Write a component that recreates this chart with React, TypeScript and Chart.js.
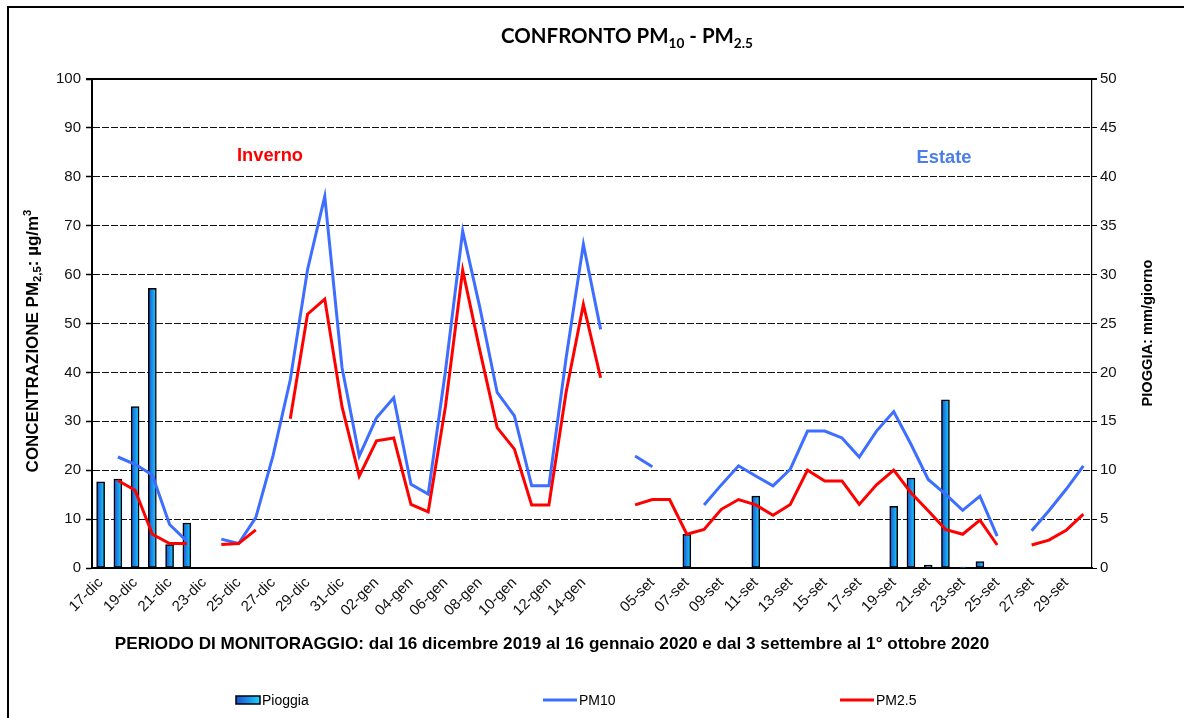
import React, { useEffect, useRef } from 'react';
import { Chart, registerables } from 'chart.js';

Chart.register(...registerables);

const categories = [
  '17-dic', '18-dic', '19-dic', '20-dic', '21-dic', '22-dic', '23-dic', '24-dic', '25-dic', '26-dic',
  '27-dic', '28-dic', '29-dic', '30-dic', '31-dic', '01-gen', '02-gen', '03-gen', '04-gen', '05-gen',
  '06-gen', '07-gen', '08-gen', '09-gen', '10-gen', '11-gen', '12-gen', '13-gen', '14-gen', '15-gen',
  '',
  '04-set', '05-set', '06-set', '07-set', '08-set', '09-set', '10-set', '11-set', '12-set', '13-set',
  '14-set', '15-set', '16-set', '17-set', '18-set', '19-set', '20-set', '21-set', '22-set', '23-set',
  '24-set', '25-set', '26-set', '27-set', '28-set', '29-set', '30-set',
];

const pm10: (number | null)[] = [
  null, 22.7, 21.2, 19.0, 8.9, 5.5, null, 5.9, 5.0, 10.3,
  23.0, 38.5, 61.0, 76.0, 41.0, 22.9, 30.7, 34.8, 17.1, 15.1,
  40.3, 68.9, 53.2, 35.9, 31.1, 16.8, 16.8, 43.0, 66.2, 48.8,
  null,
  22.9, 20.7, null, null, 12.9, 17.0, 20.9, 18.8, 16.8, 20.2,
  28.0, 28.0, 26.6, 22.7, 28.0, 32.0, 25.3, 18.1, 15.1, 11.8,
  14.7, 6.5, null, 7.6, 11.7, 16.1, 20.9,
];

const pm25: (number | null)[] = [
  null, 17.9, 15.9, 6.9, 5.0, 5.0, null, 4.8, 5.0, 7.8,
  null, 30.5, 51.9, 55.0, 33.0, 18.8, 26.0, 26.6, 13.0, 11.5,
  33.0, 60.9, 44.4, 28.7, 24.3, 12.9, 12.9, 36.0, 53.9, 38.9,
  null,
  12.9, 14.0, 14.0, 6.9, 7.9, 12.0, 14.0, 12.9, 10.8, 13.0,
  20.0, 17.8, 17.8, 13.0, 17.0, 20.0, 15.4, 11.7, 7.9, 6.9,
  9.8, 4.7, null, 4.7, 5.7, 7.7, 11.0,
];

const rain: (number | null)[] = [
  8.8, 9.1, 16.5, 28.6, 2.4, 4.6, null, null, null, null,
  null, null, null, null, null, null, null, null, null, null,
  null, null, null, null, null, null, null, null, null, null,
  null,
  null, null, null, 3.45, null, null, null, 7.35, null, null,
  null, null, null, null, null, 6.3, 9.2, 0.3, 17.2, 0.1,
  0.65, null, null, null, null, null, null,
];

const leftAxisMax = 100;
const leftAxisStep = 10;
const rightAxisMax = 50;
const rightAxisStep = 5;

const titleParts = ['CONFRONTO PM', '10', ' - PM', '2.5'];
const leftTitleParts = ['CONCENTRAZIONE PM', '2,5', ': µg/m', '3'];
const rightTitle = 'PIOGGIA: mm/giorno';
const xTitle = 'PERIODO DI MONITORAGGIO: dal 16 dicembre 2019 al 16 gennaio 2020 e dal 3 settembre al 1° ottobre 2020';
const winterLabel = 'Inverno';
const summerLabel = 'Estate';
const legendLabels = ['Pioggia', 'PM10', 'PM2.5'];

const W = 1184;
const H = 718;
const BLUE = '#3D6EFF';
const RED = '#FF0000';
const BAR_DARK = '#1C4FD2';
const BAR_LIGHT = '#18D2FF';

type Seg = { t: string; s: number; dy?: number };

function drawRich(
  ctx: CanvasRenderingContext2D,
  segs: Seg[],
  family: string,
  weight: string,
  color: string,
  x: number,
  y: number,
  align: 'center' | 'left',
  targetW?: number,
) {
  const widthAt = (k: number) =>
    segs.reduce((w, sg) => {
      ctx.font = `${weight} ${sg.s * k}px ${family}`;
      return w + ctx.measureText(sg.t).width;
    }, 0);
  let k = 1;
  let w = widthAt(1);
  if (targetW && w > 0) {
    k = targetW / w;
    w = widthAt(k);
  }
  let cx = align === 'center' ? x - w / 2 : x;
  ctx.fillStyle = color;
  ctx.textAlign = 'left';
  ctx.textBaseline = 'alphabetic';
  for (const sg of segs) {
    ctx.font = `${weight} ${sg.s * k}px ${family}`;
    ctx.fillText(sg.t, cx, y + (sg.dy || 0) * k);
    cx += ctx.measureText(sg.t).width;
  }
}

const decorPlugin = {
  id: 'decor',
  beforeDraw(chart: any) {
    const ctx = chart.ctx as CanvasRenderingContext2D;
    ctx.save();
    ctx.fillStyle = '#fff';
    ctx.fillRect(0, 0, W, H);
    ctx.restore();
  },
  afterDraw(chart: any) {
    const ctx = chart.ctx as CanvasRenderingContext2D;
    const a = chart.chartArea;
    ctx.save();
    ctx.strokeStyle = '#000';
    ctx.lineWidth = 2;
    ctx.beginPath();
    ctx.moveTo(8, H + 5);
    ctx.lineTo(8, 7);
    ctx.lineTo(W + 5, 7);
    ctx.stroke();
    ctx.lineWidth = 2;
    ctx.beginPath();
    ctx.moveTo(a.left - 6, a.top);
    ctx.lineTo(a.right + 5, a.top);
    ctx.stroke();

    const sans = '"Liberation Sans", Arial, sans-serif';
    drawRich(ctx, [
      { t: titleParts[0], s: 18 },
      { t: titleParts[1], s: 12, dy: 4 },
      { t: titleParts[2], s: 18 },
      { t: titleParts[3], s: 12, dy: 4 },
    ], 'Lato, "Open Sans", sans-serif', 'bold', '#000', 627, 43, 'center', 252);

    drawRich(ctx, [{ t: winterLabel, s: 18 }], sans, 'bold', RED, 270, 161, 'center', 66);
    drawRich(ctx, [{ t: summerLabel, s: 18 }], sans, 'bold', '#4A7EE8', 944, 163, 'center', 55);

    drawRich(ctx, [{ t: xTitle, s: 15 }], sans, 'bold', '#000', 552, 649, 'center', 875);

    ctx.save();
    ctx.translate(38, 341);
    ctx.rotate(-Math.PI / 2);
    drawRich(ctx, [
      { t: leftTitleParts[0], s: 15 },
      { t: leftTitleParts[1], s: 10, dy: 3 },
      { t: leftTitleParts[2], s: 15 },
      { t: leftTitleParts[3], s: 10, dy: -6 },
    ], sans, 'bold', '#000', 0, 0, 'center', 263);
    ctx.restore();

    ctx.save();
    ctx.translate(1152, 333);
    ctx.rotate(-Math.PI / 2);
    drawRich(ctx, [{ t: rightTitle, s: 14 }], sans, 'bold', '#000', 0, 0, 'center', 147);
    ctx.restore();

    const ly = 700;
    const g = ctx.createLinearGradient(236, 0, 260, 0);
    g.addColorStop(0, BAR_DARK);
    g.addColorStop(1, BAR_LIGHT);
    ctx.fillStyle = g;
    ctx.fillRect(236, ly - 4, 24, 8);
    ctx.strokeStyle = '#000';
    ctx.lineWidth = 1.5;
    ctx.strokeRect(236, ly - 4, 24, 8);
    ctx.lineWidth = 3;
    ctx.strokeStyle = BLUE;
    ctx.beginPath();
    ctx.moveTo(543, ly);
    ctx.lineTo(577, ly);
    ctx.stroke();
    ctx.strokeStyle = RED;
    ctx.beginPath();
    ctx.moveTo(840, ly);
    ctx.lineTo(874, ly);
    ctx.stroke();
    ctx.fillStyle = '#000';
    ctx.font = '14px ' + sans;
    ctx.textAlign = 'left';
    ctx.textBaseline = 'middle';
    ctx.fillText(legendLabels[0], 262, ly + 1);
    ctx.fillText(legendLabels[1], 579, ly + 1);
    ctx.fillText(legendLabels[2], 876, ly + 1);
    ctx.restore();
  },
};

export default function App() {
  const ref = useRef<HTMLCanvasElement | null>(null);

  useEffect(() => {
    if (!ref.current) return;
    const sans = '"Liberation Sans", Arial, sans-serif';
    const chart = new Chart(ref.current, {
      type: 'bar',
      data: {
        labels: categories,
        datasets: [
          {
            type: 'line',
            label: legendLabels[2],
            data: pm25,
            borderColor: RED,
            backgroundColor: RED,
            borderWidth: 3,
            pointRadius: 0,
            tension: 0,
            spanGaps: false,
            yAxisID: 'y',
            order: 1,
          } as any,
          {
            type: 'line',
            label: legendLabels[1],
            data: pm10,
            borderColor: BLUE,
            backgroundColor: BLUE,
            borderWidth: 3,
            pointRadius: 0,
            tension: 0,
            spanGaps: false,
            yAxisID: 'y',
            order: 2,
          } as any,
          {
            type: 'bar',
            label: legendLabels[0],
            data: rain,
            yAxisID: 'y1',
            order: 3,
            barThickness: 8,
            borderColor: '#000',
            borderWidth: 1.5,
            borderSkipped: false,
            backgroundColor: (c: any) => {
              const ch = c.chart;
              const xs = ch.scales && ch.scales.x;
              if (!xs || c.type !== 'data') return BAR_LIGHT;
              const x = xs.getPixelForValue(c.dataIndex);
              if (!Number.isFinite(x)) return BAR_LIGHT;
              const gr = ch.ctx.createLinearGradient(x - 4, 0, x + 4, 0);
              gr.addColorStop(0, BAR_DARK);
              gr.addColorStop(1, BAR_LIGHT);
              return gr;
            },
          } as any,
        ],
      },
      options: {
        responsive: false,
        animation: false,
        devicePixelRatio: 1,
        layout: { padding: { top: 79, left: 0, right: 0, bottom: 0 } },
        plugins: {
          legend: { display: false },
          tooltip: { enabled: false },
          title: { display: false },
        },
        scales: {
          x: {
            type: 'category',
            offset: true,
            grid: { display: false, drawTicks: false },
            border: { display: true, color: '#000', width: 2 },
            ticks: {
              autoSkip: false,
              minRotation: 45,
              maxRotation: 45,
              padding: 6,
              color: '#111',
              font: { family: sans, size: 15 },
              callback: (_v: any, i: number) => (i % 2 === 0 ? categories[i] : ''),
            },
            afterFit: (s: any) => {
              s.height = H - 568;
            },
          },
          y: {
            position: 'left',
            min: 0,
            max: leftAxisMax,
            ticks: {
              stepSize: leftAxisStep,
              padding: 5,
              color: '#111',
              font: { family: sans, size: 15 },
            },
            grid: {
              color: '#111',
              lineWidth: 1,
              drawTicks: true,
              tickLength: 6,
              tickColor: '#000',
              tickWidth: 1.5,
              tickBorderDash: [],
            } as any,
            border: { display: true, color: '#000', width: 2, dash: [7, 2] },
            afterFit: (s: any) => {
              s.width = 92;
            },
          },
          y1: {
            position: 'right',
            min: 0,
            max: rightAxisMax,
            ticks: {
              stepSize: rightAxisStep,
              padding: 3,
              color: '#111',
              font: { family: sans, size: 15 },
            },
            grid: {
              drawOnChartArea: false,
              drawTicks: true,
              tickLength: 5,
              color: '#000',
            },
            border: { display: true, color: '#000', width: 1.2 },
            afterFit: (s: any) => {
              s.width = W - 1092;
            },
          },
        },
      },
      plugins: [decorPlugin],
    } as any);
    return () => chart.destroy();
  }, []);

  return (
    <div style={{ position: 'absolute', left: 0, top: 0, width: W, height: H, overflow: 'hidden', background: '#fff' }}>
      <canvas ref={ref} width={W} height={H} style={{ display: 'block', width: W, height: H }} />
    </div>
  );
}
